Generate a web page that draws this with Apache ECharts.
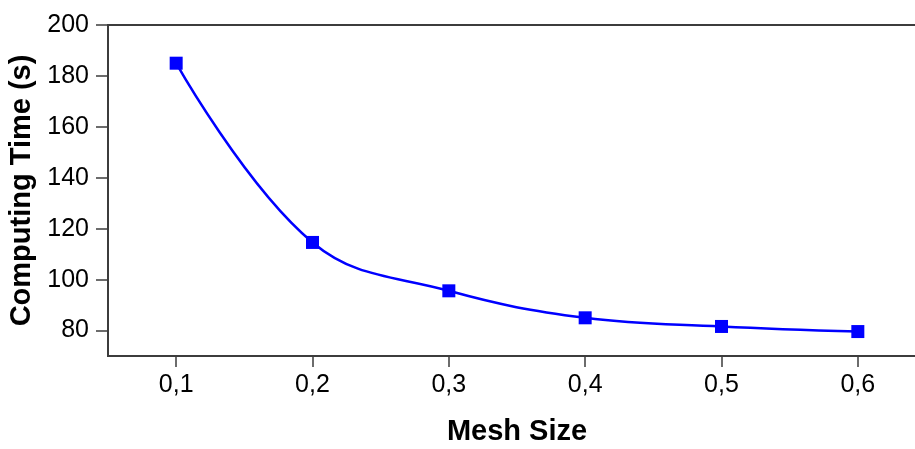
<!DOCTYPE html>
<html>
<head>
<meta charset="utf-8">
<script src="https://cdn.jsdelivr.net/npm/echarts@6/dist/echarts.min.js"></script>
<style>
html,body{margin:0;padding:0;background:#fff;}
#c{width:915px;height:449px;}
</style>
</head>
<body>
<div id="c"></div>
<script>
const meshSize = [0.1, 0.2, 0.3, 0.4, 0.5, 0.6];
const computingTime = [185, 114.6, 95.6, 85, 81.6, 79.6];
const xTicks = [0.1, 0.2, 0.3, 0.4, 0.5, 0.6];
const yTicks = [80, 100, 120, 140, 160, 180, 200];

const chart = echarts.init(document.getElementById('c'));
const axisColor = '#3c3c3c';
const font = 'Liberation Sans, Arial, sans-serif';
chart.setOption({
  animation: false,
  grid: {
    left: 108, top: 25, height: 331, width: 818,
    outerBoundsMode: 'none', containLabel: false,
    show: true, borderColor: axisColor, borderWidth: 2, backgroundColor: 'transparent'
  },
  xAxis: {
    type: 'value', min: 0.05, max: 0.65,
    name: 'Mesh Size', nameLocation: 'middle', nameGap: 61,
    nameTextStyle: { fontFamily: font, fontWeight: 'bold', fontSize: 29, color: '#000' },
    axisLine: { show: true, lineStyle: { color: axisColor, width: 2 } },
    axisTick: { show: true, length: 11, customValues: xTicks, lineStyle: { color: axisColor, width: 1.5 } },
    axisLabel: {
      customValues: xTicks, margin: 17,
      fontFamily: font, fontSize: 25, color: '#000',
      formatter: v => v.toFixed(1).replace('.', ',')
    },
    splitLine: { show: false }
  },
  yAxis: {
    type: 'value', min: 70, max: 200,
    name: 'Computing Time (s)', nameLocation: 'middle', nameGap: 72,
    nameTextStyle: { fontFamily: font, fontWeight: 'bold', fontSize: 29, color: '#000' },
    axisLine: { show: true, lineStyle: { color: axisColor, width: 2 } },
    axisTick: { show: true, length: 12, customValues: yTicks, lineStyle: { color: axisColor, width: 1.5 } },
    axisLabel: {
      customValues: yTicks, margin: 19,
      fontFamily: font, fontSize: 25, color: '#000'
    },
    splitLine: { show: false }
  },
  series: [{
    type: 'line',
    data: meshSize.map((x, i) => [x, computingTime[i]]),
    smooth: 0.4,
    symbol: 'rect', symbolSize: 13,
    itemStyle: { color: '#0000ff' },
    lineStyle: { color: '#0000ff', width: 2.5 }
  }]
});
</script>
</body>
</html>
